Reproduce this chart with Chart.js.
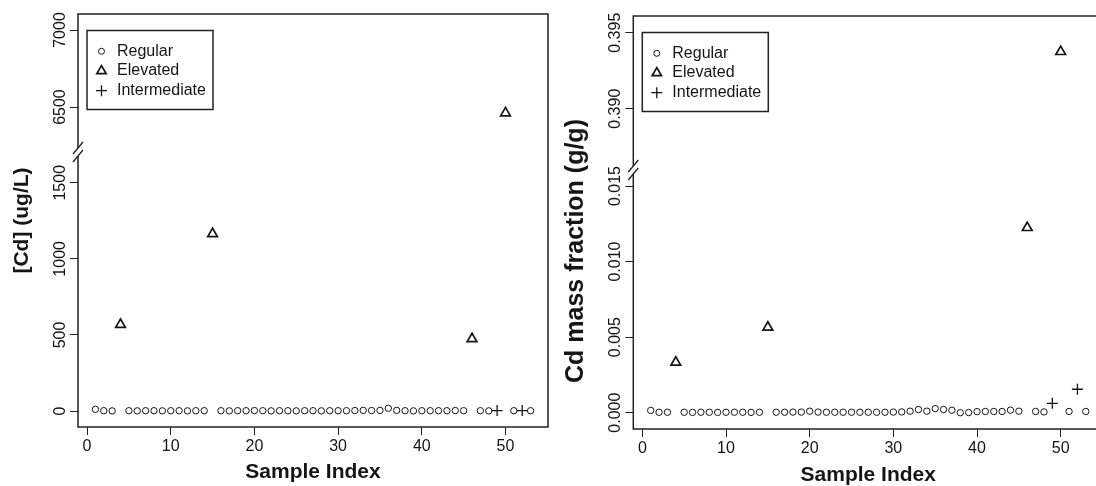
<!DOCTYPE html>
<html>
<head>
<meta charset="utf-8">
<script src="https://cdn.jsdelivr.net/npm/chart.js@4.4.1/dist/chart.umd.min.js"></script>
<style>
html, body { margin: 0; padding: 0; background: #fff; overflow: hidden; width: 1096px; height: 486px; }
canvas { position: absolute; top: 0; }
#cL { left: 0; }
#cR { left: 560px; }
</style>
</head>
<body>
<canvas id="cL" width="560" height="486"></canvas>
<canvas id="cR" width="550" height="489"></canvas>
<script>
// ---------------- data ----------------
const regularIndex = [1,2,3,5,6,7,8,9,10,11,12,13,14,16,17,18,19,20,21,22,23,24,25,26,27,28,29,30,31,32,33,34,35,36,37,38,39,40,41,42,43,44,45,47,48,51,53];
const elevatedIndex = [4,15,46,50];
const intermediateIndex = [49,52];

// left panel: [Cd] (ug/L)
const regularCd = [11,2,1, 2,1,2,2,1,2,2,1,2,2,
  2,1,2,2,3,2,1,2,2,1,2,2,1,2,2,2,3,4,3,4,18,4,2,1,2,2,2,2,3,2,
  2,1,2,2];
const elevatedCd = [568,1164,474,6461];
const intermediateCd = [3,3];

// right panel: Cd mass fraction (g/g)
const regularFrac = [0.00015,0.00003,0.00003,
  0.00003,0.00002,0.00003,0.00003,0.00002,0.00003,0.00003,0.00003,0.00002,0.00003,
  0.00003,0.00003,0.00004,0.00004,0.00010,0.00004,0.00003,0.00003,0.00003,0.00003,0.00003,0.00003,0.00003,0.00003,0.00004,0.00005,
  0.00010,0.00021,0.00010,0.00027,0.00021,0.00016,0.00000,0.00001,0.00007,0.00008,0.00008,0.00008,0.00017,0.00010,
  0.00008,0.00005,0.00008,0.00008];
const elevatedFrac = [0.00333,0.00565,0.01224,0.39375];
const intermediateFrac = [0.00062,0.00155];

// ticks
const xTicks = [0,10,20,30,40,50];
const cdLowerTicks = [0,500,1000,1500];
const cdUpperTicks = [6500,7000];
const fracLowerTicks = [0,0.005,0.010,0.015];
const fracUpperTicks = [0.390,0.395];

const legendLabels = ['Regular','Elevated','Intermediate'];

// ---------------- styling / layout ----------------
const FONT = '"Liberation Sans", Arial, Helvetica, sans-serif';
const INK = '#151515';
const TICK_LEN = 8;
const TICK_OFFSET = 17.7;

function yTickPadding(values, fmt) {
  const c = document.createElement('canvas').getContext('2d');
  c.font = '16px ' + FONT;
  const widest = Math.max(...values.map(v => c.measureText(fmt(v)).width));
  return TICK_OFFSET - TICK_LEN - widest / 2;
}

function pts(xs, ys) { return xs.map((x, i) => ({x: x, y: ys[i]})); }

function drawSymbol(ctx, style, x, y, r, bw) {
  ctx.save();
  ctx.strokeStyle = INK; ctx.lineWidth = bw;
  ctx.beginPath();
  if (style === 'circle') {
    ctx.arc(x, y, r, 0, Math.PI * 2);
  } else if (style === 'triangle') {
    let a = 0;
    ctx.moveTo(x + Math.sin(a) * r, y - Math.cos(a) * r);
    a += 2 * Math.PI / 3;
    ctx.lineTo(x + Math.sin(a) * r, y - Math.cos(a) * r);
    a += 2 * Math.PI / 3;
    ctx.lineTo(x + Math.sin(a) * r, y - Math.cos(a) * r);
    ctx.closePath();
  } else {
    ctx.moveTo(x - r, y); ctx.lineTo(x + r, y);
    ctx.moveTo(x, y - r); ctx.lineTo(x, y + r);
  }
  ctx.stroke();
  ctx.restore();
}

const framePlugin = {
  id: 'frameLegend',
  afterDraw(chart, args, o) {
    const ctx = chart.ctx, a = chart.chartArea;
    const bY = chart.scales.yLow.top;
    ctx.save();
    // box
    ctx.strokeStyle = '#222'; ctx.lineWidth = 1.5;
    ctx.strokeRect(a.left, a.top, a.right - a.left, a.bottom - a.top);
    // axis break
    ctx.fillStyle = '#fff';
    ctx.fillRect(a.left - 3, bY - 4, 6, 8);
    ctx.beginPath();
    for (const dy of [-4, 4]) {
      ctx.moveTo(a.left - 5, bY + dy + 6);
      ctx.lineTo(a.left + 5, bY + dy - 6);
    }
    ctx.lineWidth = 1.3; ctx.strokeStyle = '#222';
    ctx.stroke();
    // legend
    const x0 = a.left + o.dx, y0 = a.top + o.dy;
    ctx.fillStyle = '#fff';
    ctx.fillRect(x0, y0, o.w, o.h);
    ctx.lineWidth = 1.5; ctx.strokeStyle = '#222';
    ctx.strokeRect(x0, y0, o.w, o.h);
    const items = chart.data.datasets.filter(d => !d.noLegend);
    items.forEach((d, i) => {
      const cy = y0 + o.first + i * o.step;
      drawSymbol(ctx, d.pointStyle, x0 + o.symX, cy, d.legendRadius, d.pointBorderWidth);
      ctx.fillStyle = INK;
      ctx.font = '16px ' + FONT;
      ctx.textBaseline = 'middle';
      ctx.textAlign = 'left';
      ctx.fillText(d.label, x0 + o.textX, cy);
    });
    ctx.restore();
  }
};

function makePanel(id, p) {
  const lowerMax = p.lowerRange[1];
  const elev = pts(elevatedIndex, p.elevated);
  const common = { showLine: false, pointBorderColor: INK, borderColor: INK, pointBackgroundColor: 'rgba(0,0,0,0)', backgroundColor: 'rgba(0,0,0,0)' };
  const regularDs = Object.assign({}, common, { label: legendLabels[0], data: pts(regularIndex, p.regular), yAxisID: 'yLow',
    pointStyle: 'circle', pointRadius: 3.2, pointBorderWidth: 1, legendRadius: 3 });
  const elevLowDs = Object.assign({}, common, { label: legendLabels[1], data: elev.filter(q => q.y <= lowerMax), yAxisID: 'yLow',
    pointStyle: 'triangle', pointRadius: 5.6, pointBorderWidth: 1.7, legendRadius: 5.4 });
  const interDs = Object.assign({}, common, { label: legendLabels[2], data: pts(intermediateIndex, p.intermediate), yAxisID: 'yLow',
    pointStyle: 'cross', pointRadius: 5.5, pointBorderWidth: 1.3, legendRadius: 5.5 });
  const elevHighDs = Object.assign({}, common, { label: legendLabels[1], noLegend: true, data: elev.filter(q => q.y > lowerMax), yAxisID: 'yHigh',
    pointStyle: 'triangle', pointRadius: 5.6, pointBorderWidth: 1.7, legendRadius: 5.4 });

  const tickFont = { size: 16, family: FONT };
  const titleFont = { size: 21, weight: 'bold', family: FONT };
  const yGrid = { display: true, drawOnChartArea: false, drawTicks: true, tickLength: TICK_LEN, color: '#222', lineWidth: 1 };

  function yScale(range, ticks, weight, stackWeight) {
    return {
      type: 'linear', position: 'left', stack: 'ybreak', stackWeight: stackWeight, weight: weight,
      min: range[0], max: range[1],
      afterBuildTicks: s => { s.ticks = ticks.map(v => ({ value: v })); },
      grid: yGrid, border: { display: false },
      ticks: { font: tickFont, color: INK, minRotation: 90, maxRotation: 90, crossAlign: 'center',
        autoSkip: false, padding: yTickPadding(ticks, p.fmt), callback: v => p.fmt(v) },
      afterFit: s => { s.width = p.axisW; }
    };
  }

  const scales = {
    x: {
      type: 'linear', position: 'bottom', min: -1.08, max: 55.08,
      afterBuildTicks: s => { s.ticks = xTicks.map(v => ({ value: v })); },
      grid: { display: true, drawOnChartArea: false, drawTicks: true, tickLength: TICK_LEN, color: '#222', lineWidth: 1 },
      border: { display: false },
      ticks: { font: tickFont, color: INK, padding: 2, autoSkip: false, minRotation: 0, maxRotation: 0 },
      title: { display: true, text: 'Sample Index', font: titleFont, color: INK, padding: { top: 0, bottom: 1 } },
      afterFit: s => { s.height = p.xAxisH; }
    },
    yHigh: yScale(p.upperRange, p.upperTicks, 1, p.upperH),
    yLow: yScale(p.lowerRange, p.lowerTicks, 0, p.lowerH),
    yTitle: {
      type: 'linear', position: 'left', weight: 2,
      ticks: { display: false }, grid: { display: false }, border: { display: false },
      title: { display: true, text: p.yTitle, font: { size: p.yTitleSize, weight: 'bold', family: FONT }, color: INK, padding: { top: p.titleTop, bottom: 0 } },
      afterFit: s => { s.width = p.titleW; }
    }
  };
  if (p.titleSpan) {
    // title column split so the title is centred on its own span
    scales.yTitle.stack = 'ttl';
    scales.yTitle.stackWeight = p.titleSpan[1];
    scales.yTitlePad = {
      type: 'linear', position: 'left', weight: 3, stack: 'ttl', stackWeight: p.titleSpan[0],
      ticks: { display: false }, grid: { display: false }, border: { display: false },
      afterFit: s => { s.width = p.titleW; }
    };
  }

  return new Chart(document.getElementById(id), {
    type: 'scatter',
    data: { datasets: [regularDs, elevLowDs, interDs, elevHighDs] },
    options: {
      responsive: false, animation: false, devicePixelRatio: 1,
      layout: { autoPadding: false, padding: { left: 0, top: p.padTop, right: p.padRight, bottom: 0 } },
      plugins: { legend: { display: false }, tooltip: { enabled: false },
        frameLegend: { dx: 9, dy: 16.5, w: 126, h: 79, first: 20.8, step: 19.7, symX: 14.5, textX: 30 } },
      scales: scales
    },
    plugins: [framePlugin]
  });
}

makePanel('cL', {
  regular: regularCd, elevated: elevatedCd, intermediate: intermediateCd,
  lowerRange: [-105, 1702], upperRange: [6208, 7104],
  lowerTicks: cdLowerTicks, upperTicks: cdUpperTicks,
  fmt: v => String(Math.round(v)),
  yTitle: '[Cd] (ug/L)', yTitleSize: 21,
  padTop: 14, padRight: 12, titleW: 40, axisW: 38, xAxisH: 59, titleTop: 9.9,
  upperH: 138, lowerH: 275
});

makePanel('cR', {
  regular: regularFrac, elevated: elevatedFrac, intermediate: intermediateFrac,
  lowerRange: [-0.001079, 0.016059], upperRange: [0.385967, 0.3961],
  lowerTicks: fracLowerTicks, upperTicks: fracUpperTicks,
  fmt: v => v.toFixed(3),
  yTitle: 'Cd mass fraction (g/g)', yTitleSize: 25, titleSpan: [57, 356],
  padTop: 16, padRight: 6.8, titleW: 36, axisW: 37.3, xAxisH: 60, titleTop: 1,
  upperH: 154, lowerH: 259
});
</script>
</body>
</html>
